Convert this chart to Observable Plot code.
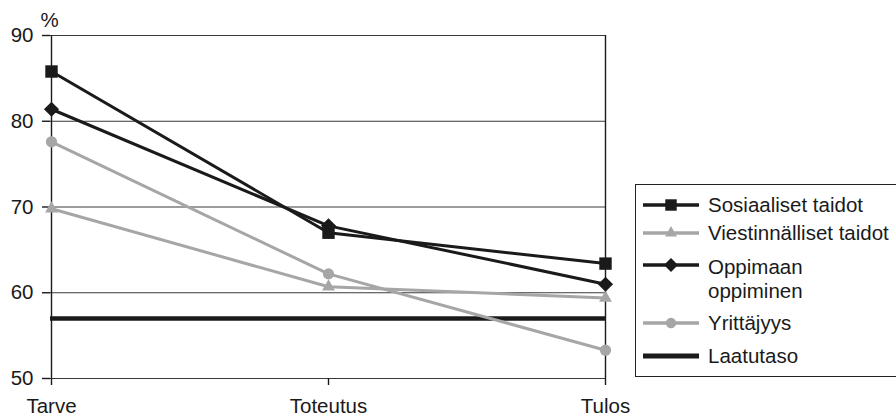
<!DOCTYPE html>
<html>
<head>
<meta charset="utf-8">
<script src="https://cdn.jsdelivr.net/npm/d3@7"></script>
<script src="https://cdn.jsdelivr.net/npm/@observablehq/plot@0.6"></script>
<style>
  html, body { margin: 0; padding: 0; background: #fff; overflow: hidden; }
  #wrap { position: relative; width: 896px; height: 417px; overflow: hidden; font-family: "Liberation Sans", Arial, sans-serif; }
  #legend { position: absolute; left: 635px; top: 184px; width: 300px; height: 193px; border: 1px solid #222; box-sizing: border-box; }
  .row { position: absolute; left: 7px; display: flex; align-items: center; font-size: 20.5px; color: #1a1a1a; line-height: 24px; }
  .row svg { flex: none; margin-right: 9px; }
</style>
</head>
<body>
<div id="wrap"><div id="legend"></div></div>
<script>
const stages = ["Tarve", "Toteutus", "Tulos"];
const seriesNames = ["Sosiaaliset taidot", "Viestinnälliset taidot", "Oppimaan oppiminen", "Yrittäjyys"];
const sosiaaliset = [85.8, 67.0, 63.4];
const viestinnalliset = [69.8, 60.7, 59.4];
const oppimaan = [81.4, 67.8, 61.0];
const yrittajyys = [77.6, 62.2, 53.3];
const laatutaso = 57;
const yTicks = [50, 60, 70, 80, 90];

const BLACK = "#1a1a1a", GRAY = "#a6a6a6";
const styles = [
  {name: seriesNames[0], values: sosiaaliset, color: BLACK, symbol: "square", r: 7},
  {name: seriesNames[1], values: viestinnalliset, color: GRAY, symbol: "triangle", r: 4.8},
  {name: seriesNames[2], values: oppimaan, color: BLACK, symbol: "diamond2", r: 6.8},
  {name: seriesNames[3], values: yrittajyys, color: GRAY, symbol: "circle", r: 5.6}
];
const rows = s => stages.map((st, i) => ({stage: st, value: s.values[i]}));
const drawOrder = [styles[1], styles[3], styles[2], styles[0]];

const marks = [
  Plot.ruleY(yTicks, {stroke: "#3a3a3a", strokeWidth: 1.2}),
  Plot.ruleX([stages[0], stages[2]], {stroke: BLACK, strokeWidth: 1.4}),
  Plot.axisY({ticks: yTicks, tickSize: 8, tickPadding: 9, fontSize: 20.5, label: null, stroke: BLACK, strokeWidth: 1.4, strokeOpacity: 1}),
  Plot.axisX({tickSize: 7, tickPadding: 13, fontSize: 20.5, label: null, stroke: BLACK, strokeWidth: 1.4, strokeOpacity: 1}),
  Plot.text(["%"], {frameAnchor: "top-left", dx: -10, dy: -23, fontSize: 20.5, fill: BLACK}),
  Plot.ruleY([laatutaso], {stroke: BLACK, strokeWidth: 4.5})
];
for (const s of drawOrder) {
  marks.push(Plot.line(rows(s), {x: "stage", y: "value", stroke: s.color, strokeWidth: 3}));
  marks.push(Plot.dot(rows(s), {x: "stage", y: "value", fill: s.color, symbol: s.symbol, r: s.r, stroke: "none"}));
}

const chart = Plot.plot({
  width: 896, height: 417,
  marginLeft: 50, marginRight: 291, marginTop: 35, marginBottom: 39,
  style: {fontFamily: '"Liberation Sans", Arial, sans-serif', color: BLACK, background: "#fff"},
  x: {type: "point", domain: stages, padding: 0},
  y: {domain: [50, 90]},
  marks
});
document.getElementById("wrap").prepend(chart);

// legend
const legend = document.getElementById("legend");
function symbolSvg(s, thick) {
  const w = 56, h = 20;
  let inner = `<line x1="0" x2="${w}" y1="${h/2}" y2="${h/2}" stroke="${s.color}" stroke-width="${thick ? 5 : 3.5}"/>`;
  if (s.symbol) {
    const map = {square: d3.symbolSquare, triangle: d3.symbolTriangle, diamond2: d3.symbolDiamond2, circle: d3.symbolCircle};
    const sz = Math.PI * s.r * s.r * 0.85;
    inner += `<path transform="translate(${w/2},${h/2})" d="${d3.symbol(map[s.symbol], sz)()}" fill="${s.color}"/>`;
  }
  return `<svg width="${w}" height="${h}">${inner}</svg>`;
}
const legendItems = [
  {s: styles[0], label: "Sosiaaliset taidot", top: 8},
  {s: styles[1], label: "Viestinnälliset taidot", top: 36},
  {s: styles[2], label: "Oppimaan<br>oppiminen", top: 70},
  {s: styles[3], label: "Yrittäjyys", top: 126},
  {s: {color: BLACK}, label: "Laatutaso", top: 159, thick: true}
];
for (const it of legendItems) {
  const d = document.createElement("div");
  d.className = "row";
  d.style.top = it.top + "px";
  if (it.label.includes("<br>")) d.style.alignItems = "flex-start";
  d.innerHTML = symbolSvg(it.s, it.thick) + `<span>${it.label}</span>`;
  legend.appendChild(d);
}
</script>
</body>
</html>
